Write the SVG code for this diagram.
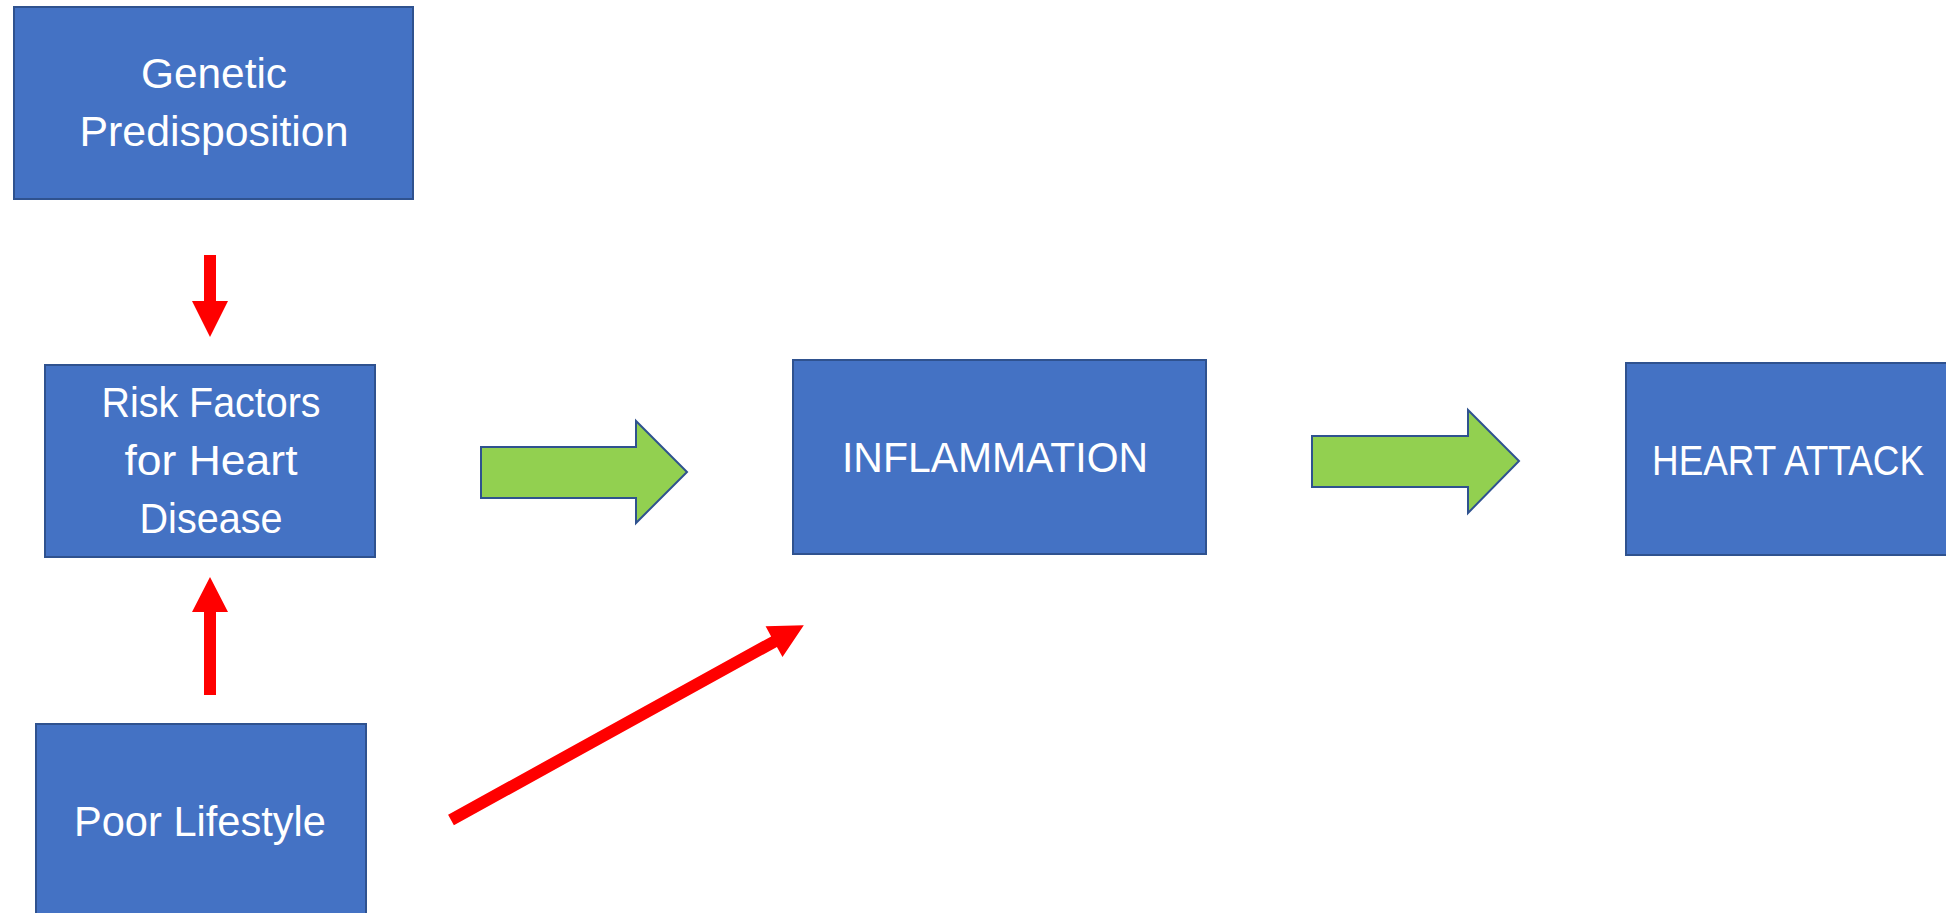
<svg xmlns="http://www.w3.org/2000/svg" width="1946" height="913" viewBox="0 0 1946 913">
  <style>
    .box { fill: #4472C4; stroke: #2F528F; stroke-width: 2; }
    .label { fill: #FFFFFF; font-family: "Liberation Sans", Arial, sans-serif; font-size: 42px; text-anchor: middle; }
    .flow { fill: #92D050; stroke: #2F528F; stroke-width: 2; stroke-linejoin: miter; }
    .cause { fill: #FF0000; stroke: none; }
  </style>
  <rect width="1946" height="913" fill="#FFFFFF"/>

  <g id="genetic-predisposition">
    <rect class="box" x="14" y="7" width="399" height="192"/>
    <text class="label" x="214" y="88" textLength="146" lengthAdjust="spacingAndGlyphs">Genetic</text>
    <text class="label" x="214" y="146" textLength="269" lengthAdjust="spacingAndGlyphs">Predisposition</text>
  </g>

  <g id="risk-factors">
    <rect class="box" x="45" y="365" width="330" height="192"/>
    <text class="label" x="211" y="417" textLength="219" lengthAdjust="spacingAndGlyphs">Risk Factors</text>
    <text class="label" x="211" y="475" textLength="173" lengthAdjust="spacingAndGlyphs">for Heart</text>
    <text class="label" x="211" y="533" textLength="143" lengthAdjust="spacingAndGlyphs">Disease</text>
  </g>

  <g id="poor-lifestyle">
    <!-- runs past the bottom edge; its lower border falls just outside the canvas -->
    <rect class="box" x="36" y="724" width="330" height="190"/>
    <text class="label" x="200" y="836" textLength="252" lengthAdjust="spacingAndGlyphs">Poor Lifestyle</text>
  </g>

  <g id="inflammation">
    <rect class="box" x="793" y="360" width="413" height="194"/>
    <text class="label" x="995" y="472" textLength="306" lengthAdjust="spacingAndGlyphs">INFLAMMATION</text>
  </g>

  <g id="heart-attack">
    <!-- runs past the right edge; its right border falls just outside the canvas -->
    <rect class="box" x="1626" y="363" width="321" height="192"/>
    <text class="label" x="1788" y="475" textLength="272" lengthAdjust="spacingAndGlyphs">HEART ATTACK</text>
  </g>

  <g id="connectors">
    <!-- block arrows along the main chain -->
    <polygon class="flow" points="481,447 636,447 636,421 687,472 636,523 636,498 481,498"/>
    <polygon class="flow" points="1312,436 1468,436 1468,410 1519,461 1468,513 1468,487 1312,487"/>

    <!-- genetic predisposition down to risk factors -->
    <polygon class="cause" points="204,255 216,255 216,301 228,301 210,337 192,301 204,301"/>
    <!-- poor lifestyle up to risk factors -->
    <polygon class="cause" points="204,695 216,695 216,612 228,612 210,577 192,612 204,612"/>
    <!-- poor lifestyle towards inflammation -->
    <polygon class="cause" transform="translate(451,820) rotate(-28.9)" points="0,-6 369,-6 369,-17.5 403,0 369,17.5 369,6 0,6"/>
  </g>
</svg>
